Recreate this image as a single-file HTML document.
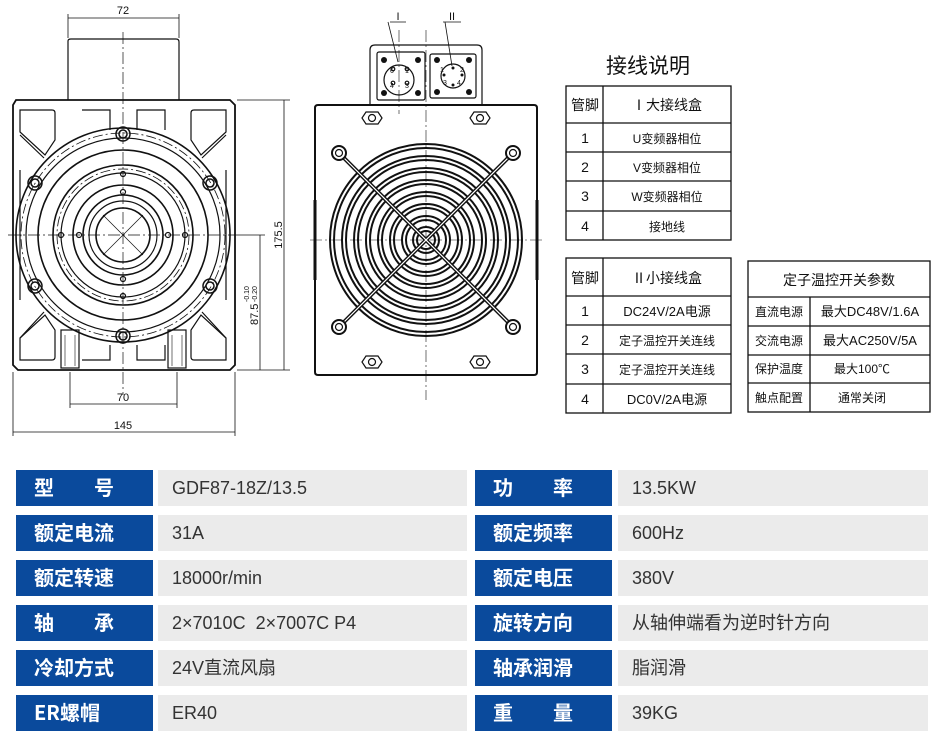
<!DOCTYPE html>
<html><head><meta charset="utf-8"><style>
body{margin:0;background:#fff;width:946px;height:748px;overflow:hidden;position:relative;font-family:"Liberation Sans","Noto Sans CJK SC",sans-serif}
.l{position:absolute;background:#0a4a9c;color:#fff;font-weight:bold;font-size:20px;line-height:34px;height:36px;box-sizing:border-box;padding-left:18px;font-family:"Noto Sans CJK SC",sans-serif}
.v{position:absolute;background:#ebebeb;color:#333;font-size:18px;line-height:36px;height:36px;padding-left:14px;box-sizing:border-box;font-family:"Liberation Sans","Noto Sans CJK SC",sans-serif}
svg text{font-family:"Liberation Sans","Noto Sans CJK SC",sans-serif;fill:#111}
</style></head><body>
<svg width="946" height="460" style="position:absolute;left:0;top:0" xmlns="http://www.w3.org/2000/svg">
<g fill="none" stroke="#111" stroke-width="1.2">
<path d="M68 100 V41 Q68 39 71 39 H176 Q179 39 179 42 V100"/>
<path d="M16 100 H230 L235 105 V365 L230 370 H18 L13 365 V105 Z" stroke-width="1.8"/>
<path d="M20 110 H52 Q55 110 55 113 V140 L45 155 L20 132 Z"/>
<path d="M226 110 H194 Q191 110 191 113 V140 L201 155 L226 132 Z"/>
<path d="M20 360 H52 Q55 360 55 357 V330 L45 315 L20 338 Z"/>
<path d="M226 360 H194 Q191 360 191 357 V330 L201 315 L226 338 Z"/>
<path d="M20 135 L44 158 M20 338 L44 312 M226 135 L202 158 M226 338 L202 312"/>
<path d="M20 170 V300 M226 170 V300"/>
<path d="M82 110 H110 V130 M137 130 V110 H165 V130"/>
<path d="M82 360 H110 V345 M137 345 V360 H165 V345"/>
<circle cx="123" cy="235" r="107" stroke-width="1.6"/>
<circle cx="123" cy="235" r="97"/>
<circle cx="123" cy="235" r="85" stroke-width="1.6"/>
<circle cx="123" cy="235" r="70" stroke-width="1.6"/>
<circle cx="123" cy="235" r="62"/>
<circle cx="123" cy="235" r="50" stroke-width="1.6"/>
<circle cx="123" cy="235" r="40" stroke-width="1.6"/>
<circle cx="123" cy="235" r="34"/>
<circle cx="123" cy="235" r="27" stroke-width="1.6"/>
<circle cx="123" cy="235" r="102" stroke-dasharray="10 3 2 3" stroke-width=".8"/>
<circle cx="123" cy="235" r="66" stroke-dasharray="10 3 2 3" stroke-width=".8"/>
<g stroke-width="1.5">
<circle cx="123" cy="134" r="7"/><circle cx="123" cy="134" r="4"/>
<circle cx="123" cy="336" r="7"/><circle cx="123" cy="336" r="4"/>
<circle cx="35" cy="183" r="7"/><circle cx="35" cy="183" r="4"/>
<circle cx="210" cy="183" r="7"/><circle cx="210" cy="183" r="4"/>
<circle cx="35" cy="286" r="7"/><circle cx="35" cy="286" r="4"/>
<circle cx="210" cy="286" r="7"/><circle cx="210" cy="286" r="4"/>
</g>
<g><circle cx="123" cy="174" r="2.5"/><circle cx="123" cy="192" r="2.5"/><circle cx="123" cy="279" r="2.5"/><circle cx="123" cy="296" r="2.5"/><circle cx="61" cy="235" r="2.5"/><circle cx="79" cy="235" r="2.5"/><circle cx="168" cy="235" r="2.5"/><circle cx="185" cy="235" r="2.5"/></g>
<path d="M103 215 L143 255 M143 215 L103 255" stroke-width=".7"/>
<rect x="61" y="330" width="18" height="38"/><rect x="168" y="330" width="18" height="38"/>
<path d="M65 335 V366 M75 335 V366 M172 335 V366 M182 335 V366" stroke-width=".6"/>
<path d="M123 32 V395 M8 235 H240" stroke-width=".7" stroke-dasharray="12 3 2 3"/>
<g stroke-width=".8">
<path d="M68 38 V14 M179 38 V14 M68 18 H179"/>
<path d="M237 100 H290 M237 370 H290 M284 100 V370 M240 235 H265 M260 235 V370"/>
<path d="M70 372 V408 M177 372 V408 M70 404 H177"/>
<path d="M13 372 V436 M235 372 V436 M13 432 H235"/>
</g>
<path d="M370 105 V50 Q370 45 375 45 H477 Q482 45 482 50 V105"/>
<path d="M318 105 H534 Q537 105 537 108 V372 Q537 375 534 375 H318 Q315 375 315 372 V108 Q315 105 318 105 Z" stroke-width="2"/>
<path d="M315 200 V280 M537 200 V280" stroke-width="3"/>
<rect x="377" y="52" width="48" height="48" rx="2"/>
<rect x="430" y="54" width="46" height="44" rx="2"/>
<circle cx="399" cy="80" r="15"/><circle cx="453" cy="76" r="12"/>
<path d="M399 30 V114 M426 30 V400 M310 240 H545" stroke-width=".6" stroke-dasharray="12 3 2 3"/>
<path d="M390 22 H406 M388 22 L398 62 M443 22 H461 M445 22 L452 66" stroke-width=".8"/>
<g stroke-width="2">
<circle cx="426" cy="240" r="96"/><circle cx="426" cy="240" r="92"/>
<circle cx="426" cy="240" r="84"/><circle cx="426" cy="240" r="80"/>
<circle cx="426" cy="240" r="72"/><circle cx="426" cy="240" r="68"/>
<circle cx="426" cy="240" r="60"/><circle cx="426" cy="240" r="56"/>
<circle cx="426" cy="240" r="48"/><circle cx="426" cy="240" r="44"/>
<circle cx="426" cy="240" r="36"/><circle cx="426" cy="240" r="32"/>
<circle cx="426" cy="240" r="24"/><circle cx="426" cy="240" r="20"/>
<circle cx="426" cy="240" r="13"/><circle cx="426" cy="240" r="9"/>
</g>
<path d="M339 153 L513 327 M513 153 L339 327" stroke-width="4"/>
<path d="M339 153 L513 327 M513 153 L339 327" stroke="#fff" stroke-width="1.2"/>
<g stroke-width="2" fill="#fff">
<circle cx="339" cy="153" r="7"/><circle cx="513" cy="153" r="7"/><circle cx="339" cy="327" r="7"/><circle cx="513" cy="327" r="7"/>
</g>
<g stroke-width="1.2"><circle cx="339" cy="153" r="3.5"/><circle cx="513" cy="153" r="3.5"/><circle cx="339" cy="327" r="3.5"/><circle cx="513" cy="327" r="3.5"/>
<path d="M366 112 h12 l4 6 l-4 6 h-12 l-4 -6 z M474 112 h12 l4 6 l-4 6 h-12 l-4 -6 z M366 356 h12 l4 6 l-4 6 h-12 l-4 -6 z M474 356 h12 l4 6 l-4 6 h-12 l-4 -6 z"/>
<circle cx="372" cy="118" r="3.5"/><circle cx="480" cy="118" r="3.5"/><circle cx="372" cy="362" r="3.5"/><circle cx="480" cy="362" r="3.5"/>
<circle cx="393" cy="69" r="1.8"/><circle cx="407" cy="69" r="1.8"/><circle cx="393" cy="83" r="1.8"/><circle cx="407" cy="83" r="1.8"/>
</g>
<g stroke-width="1.3">
<rect x="566" y="86" width="165" height="154"/><path d="M603 86 V240 M566 123 H731 M566 152 H731 M566 181 H731 M566 211 H731"/>
<rect x="566" y="258" width="165" height="155"/><path d="M603 258 V413 M566 296 H731 M566 325 H731 M566 354 H731 M566 384 H731"/>
<rect x="748" y="261" width="182" height="151"/><path d="M810 297 V412 M748 297 H930 M748 326 H930 M748 355 H930 M748 383 H930"/>
</g>
</g>
<g fill="#111">
<circle cx="384" cy="60" r="3"/><circle cx="418" cy="60" r="3"/><circle cx="384" cy="93" r="3"/><circle cx="418" cy="93" r="3"/>
<circle cx="437" cy="60" r="3"/><circle cx="469" cy="60" r="3"/><circle cx="437" cy="92" r="3"/><circle cx="469" cy="92" r="3"/>
<circle cx="453" cy="68" r="1.5"/><circle cx="444" cy="75" r="1.5"/><circle cx="462" cy="75" r="1.5"/><circle cx="453" cy="85" r="1.5"/>
</g>
<g font-size="11">
<text x="123" y="14" text-anchor="middle">72</text>
<text x="123" y="401" text-anchor="middle">70</text>
<text x="123" y="429" text-anchor="middle">145</text>
<text transform="translate(282 235) rotate(-90)" text-anchor="middle">175.5</text>
<text transform="translate(258 325) rotate(-90)">87.5</text>
<text transform="translate(249 302) rotate(-90)" font-size="7">-0.10</text>
<text transform="translate(257 302) rotate(-90)" font-size="7">-0.20</text>
<text x="398" y="20" text-anchor="middle" font-family="Liberation Serif">I</text>
<text x="452" y="20" text-anchor="middle" font-family="Liberation Serif">II</text>
<g font-size="7"><text x="390" y="73">6</text><text x="405" y="73">1</text><text x="390" y="88">4</text><text x="405" y="88">3</text><text x="440" y="72">1</text><text x="460" y="72">2</text><text x="443" y="85">3</text><text x="457" y="85">4</text></g>
</g>
<text x="648" y="73" font-size="21" text-anchor="middle">接线说明</text>
<g font-size="14" text-anchor="middle">
<text x="585" y="110">管脚</text><text x="667" y="110">Ⅰ大接线盒</text>
<text x="585" y="143">1</text><text x="667" y="143" font-size="12">U变频器相位</text>
<text x="585" y="172">2</text><text x="667" y="172" font-size="12">V变频器相位</text>
<text x="585" y="201">3</text><text x="667" y="201" font-size="12">W变频器相位</text>
<text x="585" y="231">4</text><text x="667" y="231" font-size="12">接地线</text>
<text x="585" y="283">管脚</text><text x="667" y="283">Ⅱ小接线盒</text>
<text x="585" y="316">1</text><text x="667" y="316" font-size="13">DC24V/2A电源</text>
<text x="585" y="345">2</text><text x="667" y="345" font-size="12">定子温控开关连线</text>
<text x="585" y="374">3</text><text x="667" y="374" font-size="12">定子温控开关连线</text>
<text x="585" y="404">4</text><text x="667" y="404" font-size="13">DC0V/2A电源</text>
<text x="839" y="285">定子温控开关参数</text>
<g font-size="12"><text x="779" y="316">直流电源</text><text x="779" y="345">交流电源</text><text x="779" y="373">保护温度</text><text x="779" y="402">触点配置</text>
<text x="870" y="316" font-size="13">最大DC48V/1.6A</text><text x="870" y="345" font-size="13">最大AC250V/5A</text><text x="862" y="373">最大100℃</text><text x="862" y="402">通常关闭</text></g>
</g>
</svg>
<div class="l" style="left:16px;top:470px;width:137px">型&emsp;&emsp;号</div><div class="v" style="left:158px;top:470px;width:309px">GDF87-18Z/13.5</div>
<div class="l" style="left:475px;top:470px;width:137px">功&emsp;&emsp;率</div><div class="v" style="left:618px;top:470px;width:310px">13.5KW</div>
<div class="l" style="left:16px;top:515px;width:137px">额定电流</div><div class="v" style="left:158px;top:515px;width:309px">31A</div>
<div class="l" style="left:475px;top:515px;width:137px">额定频率</div><div class="v" style="left:618px;top:515px;width:310px">600Hz</div>
<div class="l" style="left:16px;top:560px;width:137px">额定转速</div><div class="v" style="left:158px;top:560px;width:309px">18000r/min</div>
<div class="l" style="left:475px;top:560px;width:137px">额定电压</div><div class="v" style="left:618px;top:560px;width:310px">380V</div>
<div class="l" style="left:16px;top:605px;width:137px">轴&emsp;&emsp;承</div><div class="v" style="left:158px;top:605px;width:309px">2×7010C&nbsp; 2×7007C P4</div>
<div class="l" style="left:475px;top:605px;width:137px">旋转方向</div><div class="v" style="left:618px;top:605px;width:310px">从轴伸端看为逆时针方向</div>
<div class="l" style="left:16px;top:650px;width:137px">冷却方式</div><div class="v" style="left:158px;top:650px;width:309px">24V直流风扇</div>
<div class="l" style="left:475px;top:650px;width:137px">轴承润滑</div><div class="v" style="left:618px;top:650px;width:310px">脂润滑</div>
<div class="l" style="left:16px;top:695px;width:137px">ER螺帽</div><div class="v" style="left:158px;top:695px;width:309px">ER40</div>
<div class="l" style="left:475px;top:695px;width:137px">重&emsp;&emsp;量</div><div class="v" style="left:618px;top:695px;width:310px">39KG</div>
</body></html>
